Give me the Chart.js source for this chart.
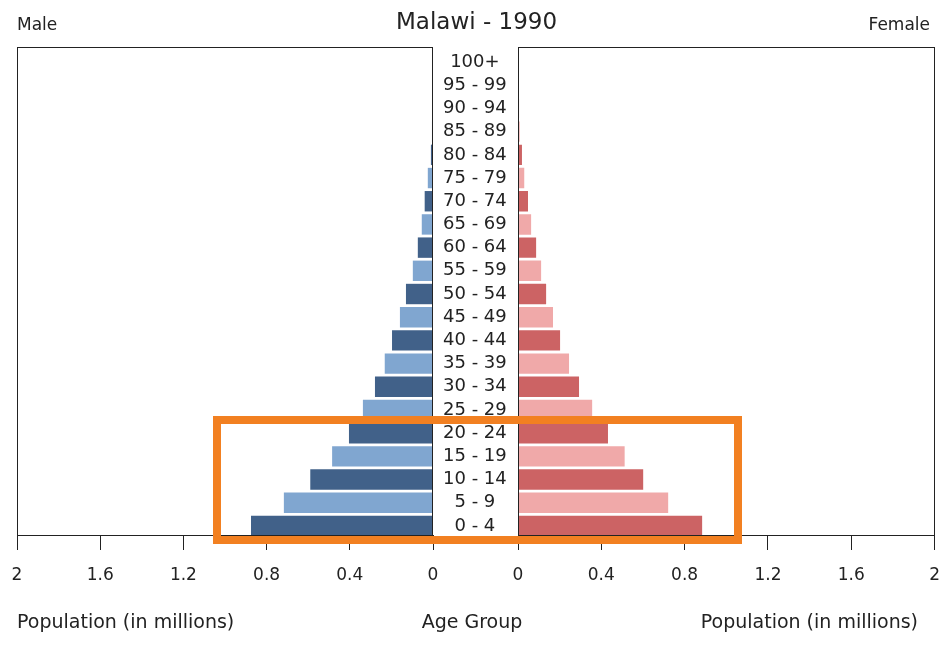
<!DOCTYPE html>
<html>
<head>
<meta charset="utf-8">
<script src="https://cdn.jsdelivr.net/npm/chart.js@4"></script>
<style>
  body { margin: 0; background: #fff; }
  #wrap { position: relative; width: 939px; height: 657px; overflow: hidden; font-family: "DejaVu Sans", sans-serif; color: #222; }
  .txt { position: absolute; white-space: nowrap; }
  #left { position: absolute; left: 0; top: 0; }
  #right { position: absolute; left: 433px; top: 0; }
  #box { position: absolute; left: 213px; top: 416px; width: 529px; height: 128px; border: 8px solid #f28021; box-sizing: border-box; }
</style>
</head>
<body>
<div id="wrap">
  <canvas id="left" width="518" height="657"></canvas>
  <canvas id="right" width="522" height="657"></canvas>
  <div class="txt" style="left:17px; top:14px; font-size:17px;">Male</div>
  <div class="txt" style="right:9px; top:14px; font-size:17px;">Female</div>
  <div class="txt" style="left:0; width:953px; text-align:center; top:8px; font-size:23px;">Malawi - 1990</div>
  <div class="txt" style="left:17px; top:610px; font-size:19px;">Population (in millions)</div>
  <div class="txt" style="left:372px; width:200px; text-align:center; top:610px; font-size:19px;">Age Group</div>
  <div class="txt" style="right:21px; top:610px; font-size:19px;">Population (in millions)</div>
  <div id="box"></div>
</div>
<script>
// age groups, youngest first
const ageGroups = ['0 - 4', '5 - 9', '10 - 14', '15 - 19', '20 - 24', '25 - 29', '30 - 34',
  '35 - 39', '40 - 44', '45 - 49', '50 - 54', '55 - 59', '60 - 64', '65 - 69', '70 - 74',
  '75 - 79', '80 - 84', '85 - 89', '90 - 94', '95 - 99', '100+'];

// population in millions
const male = [0.875, 0.717, 0.590, 0.485, 0.404, 0.337, 0.279, 0.232, 0.197, 0.159, 0.130,
  0.097, 0.073, 0.054, 0.040, 0.025, 0.010, 0.005, 0.003, 0.002, 0.001];
const female = [0.884, 0.721, 0.601, 0.512, 0.432, 0.356, 0.293, 0.245, 0.202, 0.168, 0.135,
  0.111, 0.087, 0.063, 0.048, 0.030, 0.019, 0.008, 0.005, 0.003, 0.002];

const xTicks = [0, 0.4, 0.8, 1.2, 1.6, 2];

const maleColors = ['#416189', '#80a6d0'];
const femaleColors = ['#cc6364', '#f0a9a9'];

const frame = {
  id: 'frame',
  afterDraw(chart) {
    const a = chart.chartArea, ctx = chart.ctx;
    ctx.save();
    ctx.strokeStyle = '#222';
    ctx.lineWidth = 1;
    ctx.strokeRect(Math.round(a.left) + 0.5, Math.round(a.top) + 0.5,
      Math.round(a.right - a.left) - 1, Math.round(a.bottom - a.top));
    ctx.restore();
  }
};

function xAxis(reverse) {
  return {
    reverse: reverse,
    min: 0,
    max: 2,
    afterBuildTicks: s => { s.ticks = xTicks.map(v => ({ value: v })); },
    afterFit: s => { s.height = 122; },
    grid: { drawOnChartArea: false, tickLength: 15, color: '#222' },
    border: { display: true, color: '#222' },
    ticks: { color: '#222', padding: 15, maxRotation: 0, font: { family: 'DejaVu Sans', size: 17 },
      callback: v => String(Number(v.toFixed(1))) }
  };
}

function pyramidSide(id, values, colors, isLeft) {
  return new Chart(document.getElementById(id), {
    type: 'bar',
    data: {
      datasets: [{
        data: values.map((v, i) => ({ x: v, y: i })),
        backgroundColor: values.map((v, i) => colors[i % 2]),
        barPercentage: 0.88,
        categoryPercentage: 1
      }]
    },
    options: {
      indexAxis: 'y',
      responsive: false,
      animation: false,
      layout: { padding: isLeft ? { left: 17, top: 47, right: 0, bottom: 0 } : { left: 85, top: 47, right: 0, bottom: 0 } },
      plugins: { legend: { display: false }, tooltip: { enabled: false } },
      scales: {
        x: xAxis(isLeft),
        y: {
          type: 'linear',
          offset: false,
          min: -0.39,
          max: 20.65,
          position: 'right',
          display: isLeft,
          afterBuildTicks: s => { s.ticks = ageGroups.map((g, i) => ({ value: i })); },
          afterFit: s => { if (isLeft) s.width = 85; },
          grid: { display: false },
          border: { display: false },
          ticks: { color: '#222', crossAlign: 'center', padding: 2, autoSkip: false,
            font: { family: 'DejaVu Sans', size: 18 },
            callback: v => ageGroups[v] }
        }
      }
    },
    plugins: [frame]
  });
}

pyramidSide('left', male, maleColors, true);
pyramidSide('right', female, femaleColors, false);
</script>
</body>
</html>
